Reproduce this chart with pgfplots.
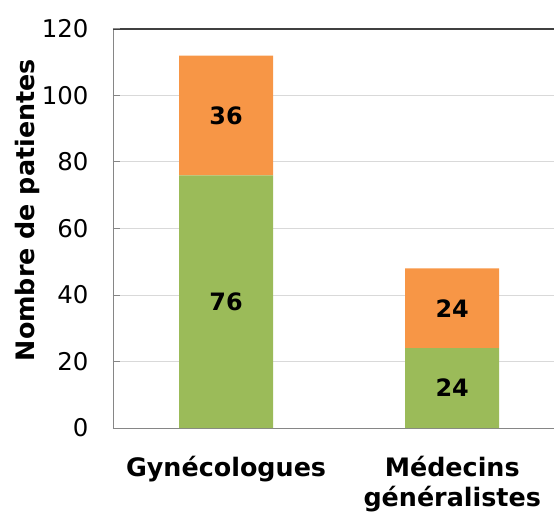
\documentclass[border=0pt]{standalone}
\usepackage{pgfplots}
\pgfplotsset{compat=1.18}
\usepackage{fontspec}
\setmainfont{DejaVu Sans}
\definecolor{bgreen}{HTML}{9BBB59}
\definecolor{borange}{HTML}{F79646}
\definecolor{axgray}{HTML}{868686}
\definecolor{gridgray}{HTML}{D9D9D9}
\begin{document}
\begin{tikzpicture}
\begin{axis}[
  scale only axis, width=441bp, height=399bp,
  at={(0,0)}, anchor=south west,
  ybar stacked, bar width=94bp,
  xmin=-0.5, xmax=1.45, ymin=0, ymax=120,
  axis x line*=bottom, axis y line*=left,
  axis line style={axgray, line width=1pt},
  xtick={0,1},
  xticklabels={Gynécologues, {Médecins\\généralistes}},
  x tick label style={font=\fontsize{25.5}{30}\selectfont\bfseries, align=center, yshift=-25bp},
  major x tick style={draw=none},
  extra x ticks={-0.5,0.5,1.5}, extra x tick labels={},
  extra x tick style={major tick length=8bp, tick align=outside, tick style={axgray, line width=1pt}},
  ytick={0,20,40,60,80,100},
  extra y ticks={120},
  extra y tick style={grid style={color=black!75, line width=1.3pt}},
  y tick label style={font=\fontsize{24.5}{29}\selectfont, xshift=-21bp},
  /pgf/number format/assume math mode=true,
  ymajorgrids, grid style={gridgray, line width=1pt},
  ytick align=inside, major tick length=7bp,
  major y tick style={axgray, line width=1pt},
  ylabel={\bfseries Nombre de patientes},
  every axis y label/.style={at={(axis description cs:-0.194,0.546)}, rotate=90, anchor=center, font=\fontsize{25.5}{30}\selectfont},
  nodes near coords,
  every node near coord/.append style={font=\fontsize{24}{28}\selectfont\bfseries, black, anchor=center},
]
\addplot[fill=bgreen, draw=none] coordinates {(0,76) (1,24)};
\addplot[fill=borange, draw=none] coordinates {(0,36) (1,24)};
\end{axis}
\pgfresetboundingbox
\useasboundingbox (-113bp,-86bp) rectangle (441bp,428bp);
\end{tikzpicture}
\end{document}
